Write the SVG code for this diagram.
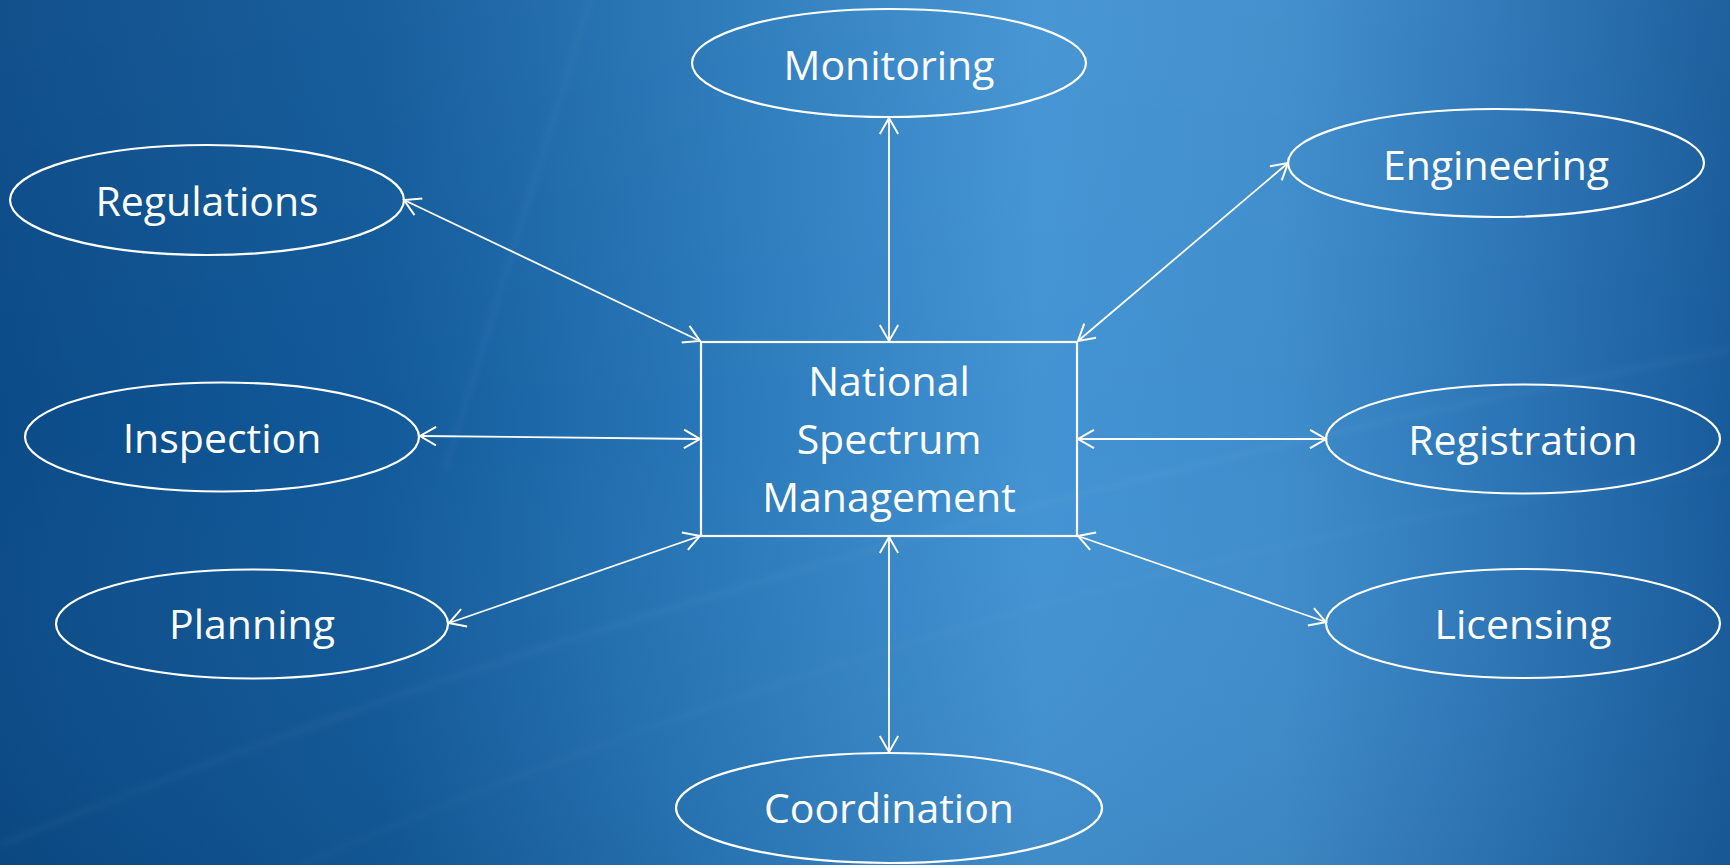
<svg xmlns="http://www.w3.org/2000/svg" width="1730" height="865" viewBox="0 0 1730 865">
  <defs>
    <linearGradient id="bg" x1="0" y1="0" x2="1" y2="0">
      <stop offset="0" stop-color="#0b4b88"/>
      <stop offset="0.22" stop-color="#125a9a"/>
      <stop offset="0.42" stop-color="#2a79ba"/>
      <stop offset="0.6" stop-color="#4393d3"/>
      <stop offset="0.74" stop-color="#3f8dcc"/>
      <stop offset="0.88" stop-color="#2a73b4"/>
      <stop offset="1" stop-color="#185b9b"/>
    </linearGradient>
    <linearGradient id="shade" x1="0" y1="0" x2="0" y2="1">
      <stop offset="0" stop-color="#ffffff" stop-opacity="0.03"/>
      <stop offset="0.5" stop-color="#ffffff" stop-opacity="0"/>
      <stop offset="1" stop-color="#000000" stop-opacity="0.05"/>
    </linearGradient>
    <filter id="soft" x="-10%" y="-10%" width="120%" height="120%">
      <feGaussianBlur stdDeviation="3"/>
    </filter>
    <marker id="arrow" viewBox="0 0 20 20" refX="18" refY="10" markerWidth="20" markerHeight="20" markerUnits="userSpaceOnUse" orient="auto-start-reverse">
      <path d="M2,0.8 L18,10 L2,19.2" fill="none" stroke="#ffffff" stroke-width="2"/>
    </marker>
    <style>
      .node { fill: none; stroke: #ffffff; stroke-width: 2.2; }
      .label { fill: #ffffff; font-family: "Open Sans", "Noto Sans", "Liberation Sans", sans-serif; font-size: 41px; text-anchor: middle; }
      .link { stroke: #ffffff; stroke-width: 1.8; fill: none; marker-start: url(#arrow); marker-end: url(#arrow); }
      .streak { stroke: #ffffff; fill: none; filter: url(#soft); }
    </style>
  </defs>

  <!-- backdrop -->
  <rect width="1730" height="865" fill="url(#bg)"/>
  <rect width="1730" height="865" fill="url(#shade)"/>
  <g id="backdrop-streaks">
    <path class="streak" d="M590,0 L445,470" stroke-width="4" stroke-opacity="0.045"/>
    <path class="streak" d="M0,845 C500,640 1100,470 1730,350" stroke-width="5" stroke-opacity="0.04"/>
    <path class="streak" d="M300,865 C800,650 1300,520 1730,470" stroke-width="3" stroke-opacity="0.035"/>
  </g>

  <!-- connectors -->
  <g id="connectors">
    <line class="link" x1="889" y1="118" x2="889" y2="341"/>
    <line class="link" x1="404" y1="200" x2="700" y2="341"/>
    <line class="link" x1="1288" y1="163" x2="1078" y2="341"/>
    <line class="link" x1="420" y1="436" x2="700" y2="439"/>
    <line class="link" x1="1078" y1="439" x2="1326" y2="439"/>
    <line class="link" x1="449" y1="623" x2="700" y2="536"/>
    <line class="link" x1="1078" y1="536" x2="1326" y2="622"/>
    <line class="link" x1="889" y1="537" x2="889" y2="752"/>
  </g>

  <!-- centre box -->
  <g id="national-spectrum-management">
    <rect class="node" x="701" y="342" width="376" height="194"/>
    <text class="label" x="889" y="396">National</text>
    <text class="label" x="889" y="454">Spectrum</text>
    <text class="label" x="889" y="512">Management</text>
  </g>

  <!-- surrounding functions -->
  <g id="monitoring">
    <ellipse class="node" cx="889" cy="63" rx="197" ry="54"/>
    <text class="label" x="889" y="80">Monitoring</text>
  </g>
  <g id="regulations">
    <ellipse class="node" cx="207" cy="200" rx="197" ry="55"/>
    <text class="label" x="207" y="216">Regulations</text>
  </g>
  <g id="engineering">
    <ellipse class="node" cx="1496" cy="163" rx="208" ry="54"/>
    <text class="label" x="1496" y="180">Engineering</text>
  </g>
  <g id="inspection">
    <ellipse class="node" cx="222" cy="437" rx="197" ry="54.5"/>
    <text class="label" x="222" y="453">Inspection</text>
  </g>
  <g id="registration">
    <ellipse class="node" cx="1523" cy="439" rx="197" ry="54.5"/>
    <text class="label" x="1523" y="455">Registration</text>
  </g>
  <g id="planning">
    <ellipse class="node" cx="252" cy="624" rx="196" ry="54.5"/>
    <text class="label" x="252" y="639">Planning</text>
  </g>
  <g id="licensing">
    <ellipse class="node" cx="1523" cy="623.5" rx="197" ry="54.5"/>
    <text class="label" x="1523" y="639">Licensing</text>
  </g>
  <g id="coordination">
    <ellipse class="node" cx="889" cy="808" rx="213" ry="55"/>
    <text class="label" x="889" y="823">Coordination</text>
  </g>
</svg>
